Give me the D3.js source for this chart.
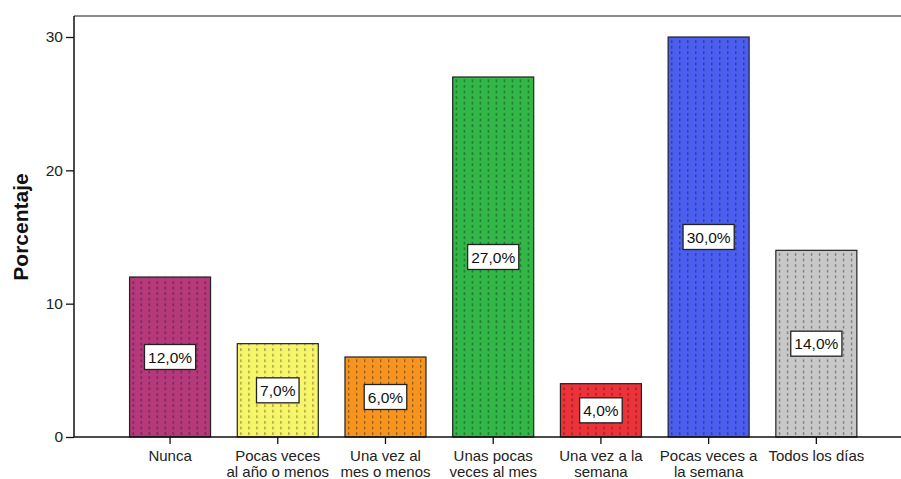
<!DOCTYPE html>
<html>
<head>
<meta charset="utf-8">
<script src="https://cdn.jsdelivr.net/npm/d3@7"></script>
<style>
  html, body { margin: 0; padding: 0; background: #fff; }
  svg { display: block; font-family: "Liberation Sans", Arial, sans-serif; }
</style>
</head>
<body>
<svg id="chart" width="901" height="479"></svg>
<script>
// Frequency categories (two-line labels split by "|")
const categories = [
  "Nunca",
  "Pocas veces|al año o menos",
  "Una vez al|mes o menos",
  "Unas pocas|veces al mes",
  "Una vez a la|semana",
  "Pocas veces a|la semana",
  "Todos los días"
];
const percentages = [12.0, 7.0, 6.0, 27.0, 4.0, 30.0, 14.0];
const barColors = ["#b5397b", "#f7f56a", "#f7941f", "#33b748", "#ec3339", "#4b5ef0", "#c8c8c8"];
const yTicks = [0, 10, 20, 30];
const yTitle = "Porcentaje";

const svg = d3.select("#chart");
const W = 901, H = 479;
const axisX = 74, topY = 16, baseY = 437;

const x = d3.scaleBand()
  .domain(categories)
  .range([116.2, 870.2])
  .paddingInner(0.248)
  .paddingOuter(0.124);

const y = d3.scaleLinear().domain([0, 30]).range([baseY, 37]);

// Dashed vertical hatch for each bar
const defs = svg.append("defs");
categories.forEach((c, i) => {
  const fill = barColors[i];
  const dark = d3.color(fill).darker(1.6);
  const p = defs.append("pattern")
    .attr("id", "hatch" + i)
    .attr("patternUnits", "userSpaceOnUse")
    .attr("width", 8).attr("height", 5.6)
    .attr("x", x(c) + 3).attr("y", 0);
  p.append("rect").attr("width", 8).attr("height", 5.6).attr("fill", fill);
  p.append("rect").attr("x", 0).attr("y", 1).attr("width", 1.3).attr("height", 2.8)
    .attr("fill", dark).attr("opacity", 0.9);
});

// Top frame line
svg.append("line")
  .attr("x1", axisX).attr("x2", W).attr("y1", topY).attr("y2", topY)
  .attr("stroke", "#8c8c8c").attr("stroke-width", 2);

// Bars
svg.append("g").selectAll("rect")
  .data(percentages)
  .join("rect")
  .attr("x", (d, i) => x(categories[i]))
  .attr("y", d => y(d))
  .attr("width", x.bandwidth())
  .attr("height", d => baseY - y(d))
  .attr("fill", (d, i) => `url(#hatch${i})`)
  .attr("stroke", "#222")
  .attr("stroke-width", 1.2);

// Y axis
const yAxis = d3.axisLeft(y).tickValues(yTicks).tickSize(8).tickPadding(3).tickFormat(d3.format("d"));
const gy = svg.append("g").attr("transform", `translate(${axisX},0)`).call(yAxis);
gy.select(".domain").remove();
gy.append("line").attr("x1", 0).attr("x2", 0).attr("y1", topY).attr("y2", baseY)
  .attr("stroke", "#111").attr("stroke-width", 1.5);
gy.selectAll(".tick line").attr("stroke", "#111").attr("stroke-width", 1.3);
gy.selectAll(".tick text").attr("font-size", 15.5).attr("fill", "#222")
  .attr("font-family", "Liberation Sans, Arial, sans-serif");

// X axis
const xAxis = d3.axisBottom(x).tickSize(7).tickFormat("");
const gx = svg.append("g").attr("transform", `translate(0,${baseY})`).call(xAxis);
gx.select(".domain").remove();
gx.append("line").attr("x1", axisX).attr("x2", W).attr("y1", 0).attr("y2", 0)
  .attr("stroke", "#111").attr("stroke-width", 1.5);
gx.selectAll(".tick line").attr("stroke", "#111").attr("stroke-width", 1.3);

// Category labels, one text element per line
const labels = svg.append("g").attr("font-size", 15).attr("fill", "#222").attr("text-anchor", "middle");
categories.forEach(c => {
  const cx = x(c) + x.bandwidth() / 2;
  c.split("|").forEach((ln, k) => {
    labels.append("text").attr("x", cx).attr("y", 461 + k * 15.5).text(ln);
  });
});

// Value labels in boxes at mid-height of each bar
const fmt = v => d3.format(".1f")(v).replace(".", ",") + "%";
const vl = svg.append("g");
percentages.forEach((v, i) => {
  const cx = x(categories[i]) + x.bandwidth() / 2;
  const cy = y(v / 2);
  const g = vl.append("g");
  const txt = g.append("text")
    .attr("x", cx).attr("y", cy + 5.5)
    .attr("text-anchor", "middle")
    .attr("font-size", 15.5).attr("fill", "#111")
    .text(fmt(v));
  const bb = txt.node().getBBox();
  g.insert("rect", "text")
    .attr("x", cx - bb.width / 2 - 3.5).attr("y", cy - 12.5)
    .attr("width", bb.width + 7).attr("height", 25)
    .attr("fill", "#fff").attr("stroke", "#222").attr("stroke-width", 1.3);
});

// Y title
svg.append("text")
  .attr("transform", `translate(28,${(y(0) + y(30)) / 2 - 10}) rotate(-90)`)
  .attr("text-anchor", "middle")
  .attr("font-size", 21).attr("font-weight", "bold").attr("fill", "#111")
  .text(yTitle);
</script>
</body>
</html>
